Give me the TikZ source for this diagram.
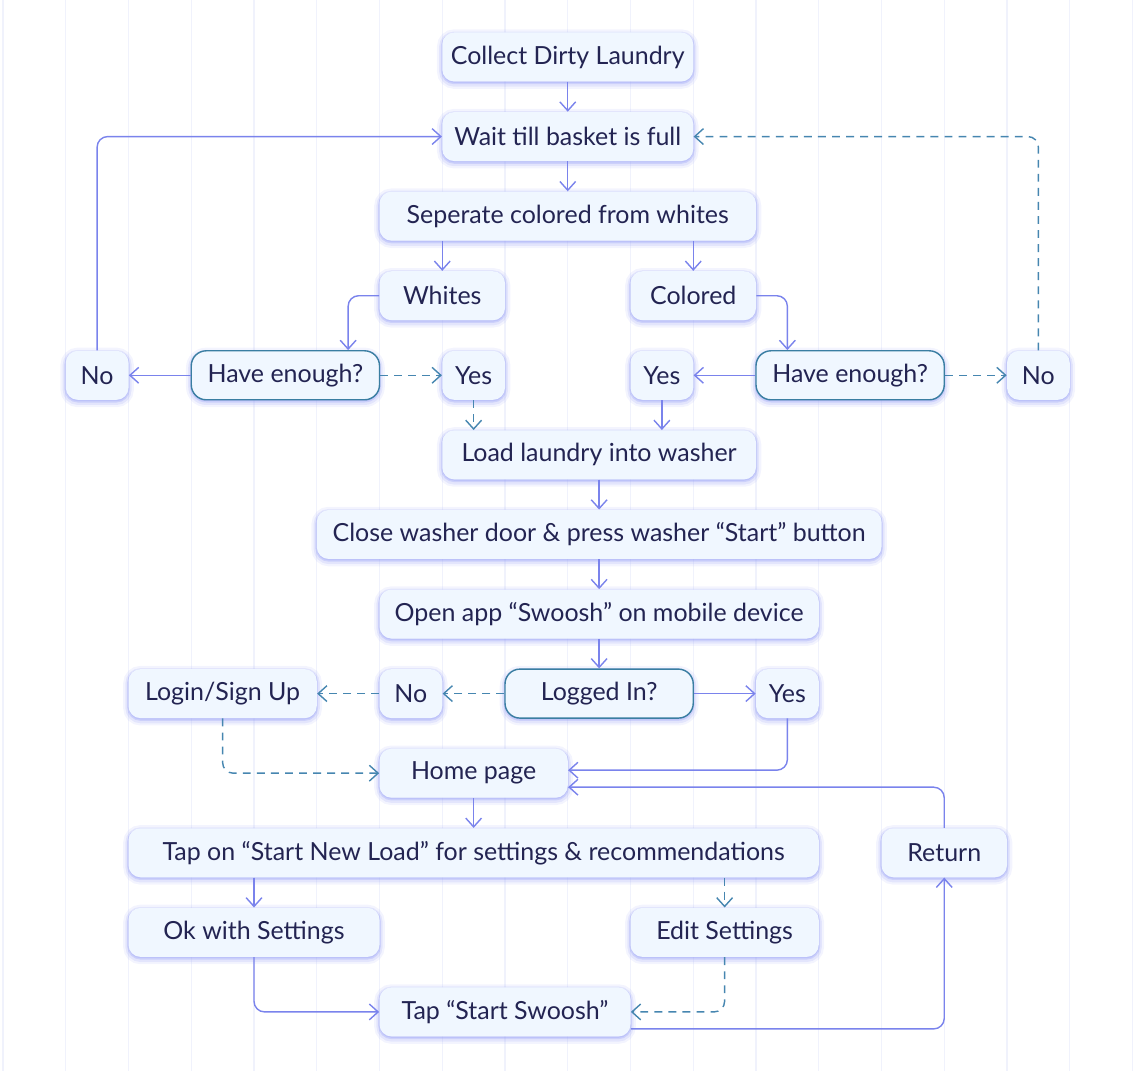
\documentclass[tikz,border=0pt]{standalone}
\usepackage{fontspec}
\setmainfont{Lato}
\usepackage{tikz}
\usetikzlibrary{arrows.meta, positioning, shadows}
\definecolor{boxfill}{RGB}{240,247,255}
\definecolor{boxglow}{RGB}{160,168,246}
\definecolor{ink}{RGB}{35,36,82}
\definecolor{flowc}{RGB}{122,131,236}
\definecolor{askc}{RGB}{58,126,162}
\definecolor{dashc}{RGB}{70,134,176}
\definecolor{gridc}{RGB}{240,242,252}
\newlength{\colw}\setlength{\colw}{1.255cm}
\tikzstyle{sbox} = [rectangle, rounded corners=0.24cm, fill=boxfill, text=ink, minimum height=0.98cm, inner sep=0pt, font=\fontsize{14.2}{16}\selectfont,
	general shadow={shadow yshift=-1.2pt, fill=none, draw=boxglow, line width=6pt, opacity=0.12},
	general shadow={shadow yshift=-1.2pt, fill=none, draw=boxglow, line width=3.5pt, opacity=0.2},
	general shadow={shadow yshift=-0.8pt, fill=boxglow, draw=boxglow, line width=1.5pt, opacity=0.35}]
\tikzstyle{qbox} = [sbox, draw=askc, line width=0.8pt, rounded corners=0.3cm]
\tikzstyle{line} = [draw=flowc, line width=0.8pt, rounded corners=6pt, -{Straight Barb[length=5pt, width=9pt]}]
\tikzstyle{dline} = [line, draw=dashc, dash pattern=on 4.5pt off 3.5pt]

\begin{document}
\begin{tikzpicture}[x=1.255cm, y=-1.5916cm]
	\useasboundingbox (-0.048,-0.716) rectangle (18.024,12.742);
	\foreach \c in {0,...,18}
		\draw [gridc, line width=0.6pt] (\c,-0.716) -- (\c,12.742);

	\node [sbox, minimum width=4\colw] (collect) at (9, 0) {Collect Dirty Laundry};
	\node [sbox, minimum width=4\colw] (wait) at (9, 1) {Wait till basket is full};
	\node [sbox, minimum width=6\colw] (sep) at (9, 2) {Seperate colored from whites};
	\node [sbox, minimum width=2\colw] (whites) at (7, 3) {Whites};
	\node [sbox, minimum width=2\colw] (colored) at (11, 3) {Colored};
	\node [sbox, minimum width=1\colw] (noL) at (1.5, 4) {No};
	\node [qbox, minimum width=3\colw] (haveL) at (4.5, 4) {Have enough?};
	\node [sbox, minimum width=1\colw] (yesL) at (7.5, 4) {Yes};
	\node [sbox, minimum width=1\colw] (yesR) at (10.5, 4) {Yes};
	\node [qbox, minimum width=3\colw] (haveR) at (13.5, 4) {Have enough?};
	\node [sbox, minimum width=1\colw] (noR) at (16.5, 4) {No};
	\node [sbox, minimum width=5\colw] (load) at (9.5, 5) {Load laundry into washer};
	\node [sbox, minimum width=9\colw] (close) at (9.5, 6) {Close washer door \& press washer “Start” button};
	\node [sbox, minimum width=7\colw] (open) at (9.5, 7) {Open app “Swoosh” on mobile device};
	\node [sbox, minimum width=3\colw] (login) at (3.5, 8) {Login/Sign Up};
	\node [sbox, minimum width=1\colw] (noM) at (6.5, 8) {No};
	\node [qbox, minimum width=3\colw] (logged) at (9.5, 8) {Logged In?};
	\node [sbox, minimum width=1\colw] (yesM) at (12.5, 8) {Yes};
	\node [sbox, minimum width=3\colw] (home) at (7.5, 9) {Home page};
	\node [sbox, minimum width=11\colw] (tap) at (7.5, 10) {Tap on “Start New Load” for settings \& recommendations};
	\node [sbox, minimum width=2\colw] (ret) at (15, 10) {Return};
	\node [sbox, minimum width=4\colw] (ok) at (4, 11) {Ok with Settings};
	\node [sbox, minimum width=3\colw] (edit) at (11.5, 11) {Edit Settings};
	\node [sbox, minimum width=4\colw] (swoosh) at (8, 12) {Tap “Start Swoosh”};

	\path [line] (collect) -- (wait);
	\path [line] (wait) -- (sep);
	\path [line] (sep.south -| whites) -- (whites);
	\path [line] (sep.south -| colored) -- (colored);
	\path [line] (whites.west) -| ([xshift=\colw]haveL.north);
	\path [line] (colored.east) -| ([xshift=-\colw]haveR.north);
	\path [line] (haveL) -- (noL);
	\path [dline] (haveL) -- (yesL);
	\path [line] (noL.north) |- (wait.west);
	\path [line] (haveR) -- (yesR);
	\path [dline] (haveR) -- (noR);
	\path [dline] (noR.north) |- (wait.east);
	\path [dline] (yesL) -- (yesL |- load.north);
	\path [line] (yesR) -- (yesR |- load.north);
	\path [line] (load) -- (close);
	\path [line] (close) -- (open);
	\path [line] (open) -- (logged);
	\path [dline] (logged) -- (noM);
	\path [dline] (noM) -- (login);
	\path [line] (logged) -- (yesM);
	\path [dline] (login.south) |- (home.west);
	\path [line] (yesM.south) |- ([yshift=0.06cm]home.east);
	\path [line] (ret.north) |- ([yshift=-0.28cm]home.east);
	\path [line] (home) -- (home |- tap.north);
	\path [line] (tap.south -| ok) -- (ok);
	\path [dline] (tap.south -| edit) -- (edit);
	\path [line] (ok.south) |- (swoosh.west);
	\path [dline] (edit.south) |- (swoosh.east);
	\path [line] ([yshift=-0.34cm]swoosh.east) -| (ret.south);
\end{tikzpicture}
\end{document}
